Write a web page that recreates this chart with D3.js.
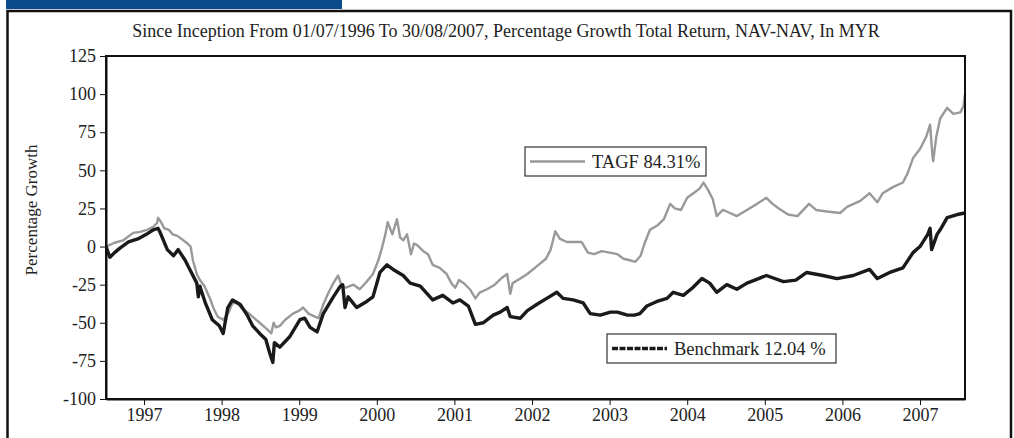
<!DOCTYPE html>
<html lang="en">
<head>
    <meta charset="UTF-8">
    <title>TAGF vs Benchmark</title>
    <script src="https://d3js.org/d3.v7.min.js"></script>
    <style>
        body { margin: 0; background: #fff; }
        svg text { font-family: "Liberation Serif", "Times New Roman", serif; fill: #222; }
        .axis path, .axis line { stroke: #111; }
    </style>
</head>
<body>
    <svg width="1014" height="438"></svg>

    <script>
        // year ticks along the bottom
        const years = [1997, 1998, 1999, 2000, 2001, 2002, 2003, 2004, 2005, 2006, 2007];
        const yTicks = [-100, -75, -50, -25, 0, 25, 50, 75, 100, 125];

        // TAGF (decimal year, % growth)
        const tagfDates = [1996.51, 1996.62, 1996.73, 1996.86, 1996.95, 1997.04, 1997.12, 1997.17, 1997.18, 1997.22,
            1997.26, 1997.32, 1997.37, 1997.43, 1997.51, 1997.56, 1997.60, 1997.63, 1997.68, 1997.72,
            1997.78, 1997.85, 1997.90, 1997.95, 1998.02, 1998.06, 1998.10, 1998.14, 1998.20, 1998.25,
            1998.33, 1998.42, 1998.49, 1998.58, 1998.64, 1998.67, 1998.70, 1998.75, 1998.82, 1998.92,
            1999.00, 1999.05, 1999.12, 1999.20, 1999.25, 1999.31, 1999.38, 1999.44, 1999.50, 1999.55,
            1999.60, 1999.70, 1999.78, 1999.87, 1999.95, 2000.02, 2000.06, 2000.11, 2000.14, 2000.20,
            2000.26, 2000.30, 2000.34, 2000.39, 2000.44, 2000.48, 2000.52, 2000.60, 2000.66, 2000.72,
            2000.81, 2000.90, 2000.96, 2001.01, 2001.06, 2001.12, 2001.20, 2001.27, 2001.33, 2001.42,
            2001.52, 2001.60, 2001.68, 2001.72, 2001.75, 2001.85, 2001.94, 2002.06, 2002.18, 2002.24,
            2002.30, 2002.36, 2002.45, 2002.56, 2002.64, 2002.72, 2002.80, 2002.90, 2003.00, 2003.10,
            2003.18, 2003.26, 2003.33, 2003.40, 2003.45, 2003.52, 2003.62, 2003.70, 2003.78, 2003.84,
            2003.92, 2004.00, 2004.08, 2004.16, 2004.21, 2004.27, 2004.33, 2004.38, 2004.46, 2004.55,
            2004.64, 2004.77, 2004.90, 2005.02, 2005.10, 2005.18, 2005.30, 2005.42, 2005.57, 2005.66,
            2005.80, 2005.97, 2006.06, 2006.23, 2006.35, 2006.45, 2006.52, 2006.65, 2006.78, 2006.84,
            2006.91, 2007.00, 2007.08, 2007.13, 2007.16, 2007.17, 2007.21, 2007.26, 2007.35, 2007.43,
            2007.52, 2007.56, 2007.58];
        const tagfValues = [0, 2.5, 4, 9, 9.6, 11, 13, 15.5, 19, 16,
            12, 11, 8, 7, 4, 2, 0, -9, -18, -22,
            -26, -34, -41, -46, -48, -46, -42, -37, -37, -40,
            -43, -47, -50, -54, -57, -50, -53, -52, -48, -44,
            -42, -40, -44, -46, -47, -38, -30, -24, -19, -26,
            -27, -25, -28, -23, -18, -9, -2, 8, 16, 8,
            18, 6, 4, 8, -5, 2, 1, -3, -5, -12,
            -14, -18, -24, -27, -22, -24, -28, -34, -30, -28,
            -25, -21, -18, -31, -24, -21, -18, -13, -8, -2,
            10, 5, 3, 3, 3, -4, -5, -3, -4, -5,
            -8, -9, -10, -6, 2, 11, 14, 18, 28, 25,
            24, 32, 35, 38, 42, 37, 31, 20, 24, 22,
            20, 24, 28, 32, 28, 25, 21, 20, 28, 24,
            23, 22, 26, 30, 35, 29, 35, 39, 42, 48,
            58, 64, 72, 80, 60, 56, 72, 84, 91, 87,
            88, 92, 100];

        // Benchmark
        const benchDates = [1996.51, 1996.56, 1996.62, 1996.69, 1996.80, 1996.92, 1997.03, 1997.12, 1997.18, 1997.21,
            1997.30, 1997.38, 1997.44, 1997.53, 1997.59, 1997.68, 1997.70, 1997.72, 1997.79, 1997.88,
            1997.97, 1998.02, 1998.08, 1998.14, 1998.24, 1998.33, 1998.40, 1998.49, 1998.57, 1998.62,
            1998.66, 1998.68, 1998.75, 1998.88, 1999.01, 1999.07, 1999.14, 1999.23, 1999.31, 1999.44,
            1999.53, 1999.56, 1999.59, 1999.63, 1999.74, 1999.87, 1999.95, 2000.04, 2000.13, 2000.21,
            2000.34, 2000.43, 2000.56, 2000.72, 2000.85, 2000.98, 2001.07, 2001.18, 2001.27, 2001.37,
            2001.50, 2001.59, 2001.68, 2001.72, 2001.85, 2001.94, 2002.06, 2002.19, 2002.32, 2002.40,
            2002.53, 2002.66, 2002.75, 2002.88, 2003.01, 2003.10, 2003.23, 2003.32, 2003.39, 2003.48,
            2003.61, 2003.74, 2003.82, 2003.95, 2004.07, 2004.19, 2004.29, 2004.38, 2004.51, 2004.64,
            2004.77, 2004.92, 2005.02, 2005.24, 2005.40, 2005.54, 2005.75, 2005.93, 2006.14, 2006.35,
            2006.45, 2006.61, 2006.78, 2006.91, 2007.00, 2007.10, 2007.13, 2007.15, 2007.22, 2007.26,
            2007.35, 2007.48, 2007.58];
        const benchValues = [0, -7, -4, -1, 3, 5, 8, 11, 12, 9,
            -2, -6, -2, -9, -15, -24, -33, -26, -37, -48,
            -52, -57, -40, -35, -38, -45, -52, -57, -61, -70,
            -76, -63, -66, -59, -48, -47, -53, -56, -44, -33,
            -26, -25, -40, -33, -40, -36, -33, -17, -12, -15,
            -19, -24, -26, -35, -32, -37, -35, -39, -51, -50,
            -45, -43, -40, -46, -47, -42, -38, -34, -30, -34,
            -35, -37, -44, -45, -43, -43, -45, -45, -44, -39,
            -36, -34, -30, -32, -27, -21, -24, -30, -25, -28,
            -24, -21, -19, -23, -22, -17, -19, -21, -19, -15,
            -21, -17, -14, -4, 0, 8, 12, -2, 8, 11,
            19, 21, 22];

        const tagf = tagfDates.map((d, i) => ({x: d, y: tagfValues[i]}));
        const bench = benchDates.map((d, i) => ({x: d, y: benchValues[i]}));

        const svg = d3.select("svg"),
            margin = {top: 56, right: 49, bottom: 39, left: 106},
            width = +svg.attr("width") - margin.left - margin.right,
            height = +svg.attr("height") - margin.top - margin.bottom;

        // header strip and outer frame
        svg.append("rect").attr("x", 6).attr("y", 0).attr("width", 336).attr("height", 9).attr("fill", "#0b4a8b");
        svg.append("path")
            .attr("d", "M7.5,438 V11 H1011 V438")
            .attr("fill", "none").attr("stroke", "#111").attr("stroke-width", 2.5);

        svg.append("text")
            .attr("x", 506)
            .attr("y", 37)
            .attr("text-anchor", "middle")
            .style("font-size", "18px")
            .text("Since Inception From 01/07/1996 To 30/08/2007, Percentage Growth Total Return, NAV-NAV, In MYR");

        const x = d3.scaleLinear().domain([1996.51, 2007.58]).range([0, width]);
        const y = d3.scaleLinear().domain([-100, 125]).range([height, 0]);

        const g = svg.append("g").attr("transform", `translate(${margin.left},${margin.top})`);

        g.append("clipPath").attr("id", "clip")
            .append("rect").attr("width", width).attr("height", height);

        const line = d3.line().x(d => x(d.x)).y(d => y(d.y));

        g.append("path")
            .datum(tagf)
            .attr("clip-path", "url(#clip)")
            .attr("fill", "none")
            .attr("stroke", "#999")
            .attr("stroke-width", 2.4)
            .attr("stroke-linejoin", "round")
            .attr("d", line);

        g.append("path")
            .datum(bench)
            .attr("clip-path", "url(#clip)")
            .attr("fill", "none")
            .attr("stroke", "#1a1a1a")
            .attr("stroke-width", 3.4)
            .attr("stroke-linejoin", "round")
            .attr("d", line);

        // plot frame
        g.append("rect")
            .attr("width", width).attr("height", height)
            .attr("fill", "none").attr("stroke", "#111").attr("stroke-width", 2);

        g.append("g")
            .attr("class", "axis")
            .attr("transform", `translate(0,${height})`)
            .call(d3.axisBottom(x).tickValues(years).tickFormat(d => String(d)).tickSize(6).tickPadding(3).tickSizeOuter(0))
            .call(a => a.selectAll("text").style("font-size", "18px").style("font-family", "Liberation Serif, serif").attr("fill", "#222"))
            .call(a => a.select(".domain").attr("stroke-width", 2));

        g.append("g")
            .attr("class", "axis")
            .call(d3.axisLeft(y).tickValues(yTicks).tickFormat(d => String(d)).tickSize(6).tickPadding(4).tickSizeOuter(0))
            .call(a => a.selectAll("text").style("font-size", "18px").style("font-family", "Liberation Serif, serif").attr("fill", "#222"))
            .call(a => a.select(".domain").attr("stroke-width", 2));

        svg.append("text")
            .attr("transform", "translate(37,210) rotate(-90)")
            .attr("text-anchor", "middle")
            .style("font-size", "17px")
            .text("Percentage Growth");

        // legends
        const legends = [
            {label: "TAGF 84.31%", x: 525, y: 147, w: 181, color: "#999", width: 2.4, dash: null},
            {label: "Benchmark 12.04 %", x: 607, y: 334, w: 229, color: "#1a1a1a", width: 3.4, dash: "6,1.5"}
        ];
        legends.forEach(l => {
            const lg = svg.append("g").attr("transform", `translate(${l.x},${l.y})`);
            lg.append("rect").attr("width", l.w).attr("height", 29)
                .attr("fill", "#fff").attr("stroke", "#333").attr("stroke-width", 1.2);
            lg.append("line").attr("x1", 5).attr("x2", 60).attr("y1", 14.5).attr("y2", 14.5)
                .attr("stroke", l.color).attr("stroke-width", l.width)
                .attr("stroke-dasharray", l.dash);
            lg.append("text").attr("x", 67).attr("y", 21)
                .style("font-size", "18.5px").text(l.label);
        });
    </script>
</body>
</html>
